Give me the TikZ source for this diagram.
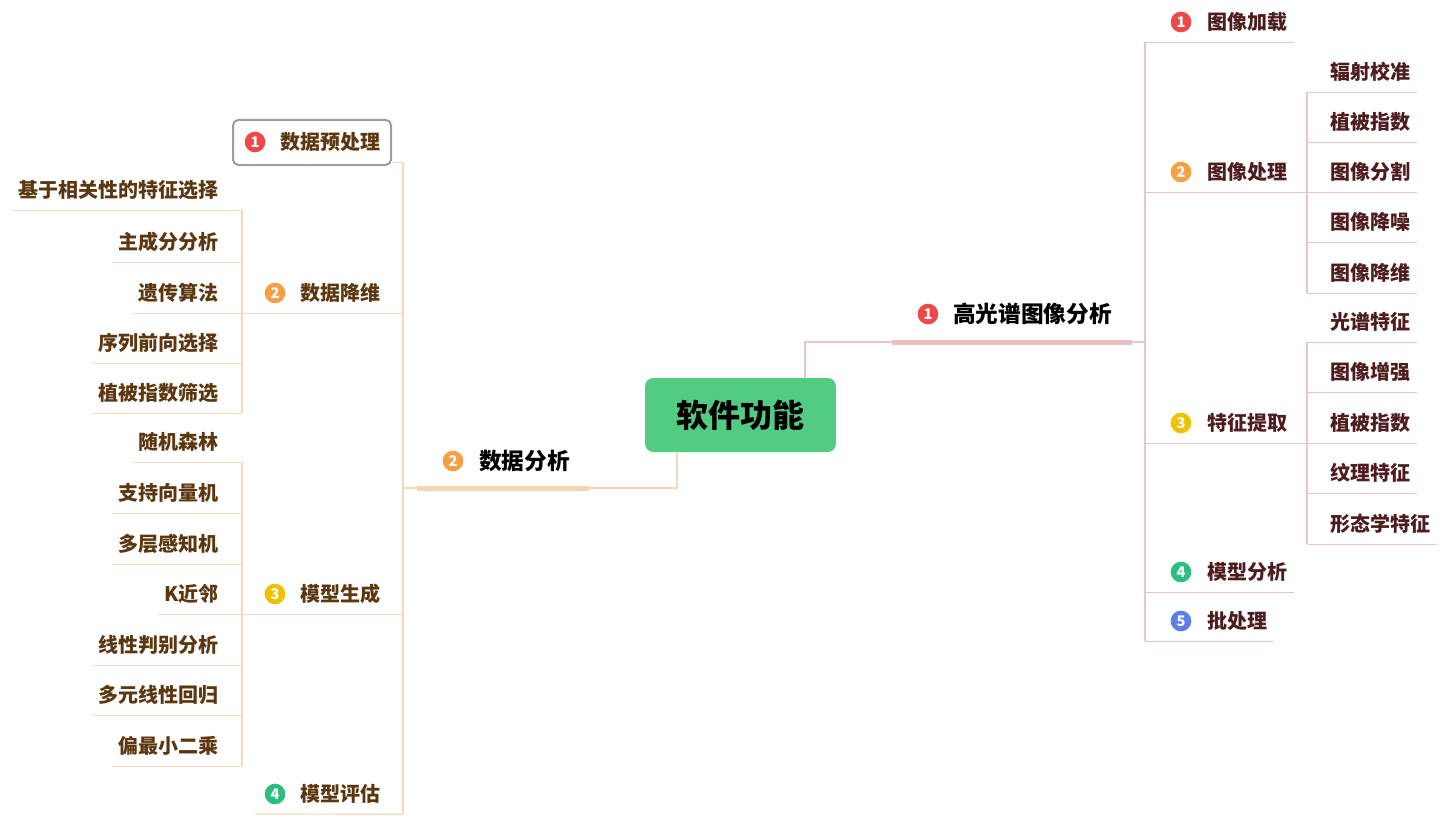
\documentclass[tikz,border=0pt]{standalone}
\usepackage{fontspec}
\setmainfont{Noto Sans CJK SC}
\usepackage{xcolor}
\usepackage{tikz}
\usetikzlibrary{positioning,calc}

\definecolor{rootgreen}{RGB}{82,204,130}
\definecolor{linkR}{RGB}{232,196,196}
\definecolor{linkL}{RGB}{246,216,186}
\definecolor{barRc}{RGB}{234,192,192}
\definecolor{barLc}{RGB}{245,212,176}
\definecolor{txtR}{RGB}{78,28,28}
\definecolor{txtL}{RGB}{92,54,14}
\definecolor{nRed}{RGB}{240,72,72}
\definecolor{nOrange}{RGB}{246,160,70}
\definecolor{nYellow}{RGB}{238,194,0}
\definecolor{nGreen}{RGB}{44,190,126}
\definecolor{nBlue}{RGB}{90,126,238}

\begin{document}
\begin{tikzpicture}[
    x=0.75pt, y=-0.75pt,
    root/.style={rectangle, rounded corners=6pt, fill=rootgreen, minimum width=143pt,
                 minimum height=55.5pt, font=\bfseries\fontsize{24}{24}\selectfont},
    badge/.style={circle, fill=#1, text=white, minimum size=15.5pt, inner sep=0pt,
                  font=\bfseries\fontsize{11}{11}\selectfont},
    mainlbl/.style={anchor=west, inner sep=0pt, font=\bfseries\fontsize{17}{17}\selectfont},
    lbl/.style={inner xsep=4.5pt, inner ysep=0pt, minimum height=30pt,
                font=\bfseries\fontsize{15}{15}\selectfont},
    lblR/.style={lbl, anchor=west, text=txtR},
    lblL/.style={lbl, anchor=east, text=txtL},
    selbox/.style={rectangle, rounded corners=4pt, draw=black!38, line width=1.5pt,
                   fill=white, minimum width=118.5pt, minimum height=33.75pt},
    edgeR/.style={draw=linkR, line width=0.9pt},
    edgeL/.style={draw=linkL, line width=0.9pt},
    barR/.style={draw=barRc, line width=3.75pt},
    barL/.style={draw=barLc, line width=3.75pt}
]
\useasboundingbox (0,0) rectangle (1450,824);

% centre
\node[root] (root) at (740.5,415) {软件功能};

% main branches
\node[badge=nRed] (b-hs) at (928,314) {1};
\node[mainlbl] (hs) at (953,314) {高光谱图像分析};
\node[badge=nOrange] (b-da) at (453,461) {2};
\node[mainlbl] (da) at (479,461) {数据分析};

\coordinate (spR) at (1145,342);
\coordinate (subR) at (1307,342);
\coordinate (spL) at (403,488);
\coordinate (subL) at (242,488);

% right side
\node[badge=nRed] (b-load) at (1181,22) {1};
\node[lblR] (load) at (1201,22) {图像加载};
\node[badge=nOrange] (b-proc) at (1181,172) {2};
\node[lblR] (proc) at (1201,172) {图像处理};
\node[badge=nYellow] (b-feat) at (1181,423) {3};
\node[lblR] (feat) at (1201,423) {特征提取};
\node[badge=nGreen] (b-mana) at (1181,572) {4};
\node[lblR] (mana) at (1201,572) {模型分析};
\node[badge=nBlue] (b-batch) at (1181,621) {5};
\node[lblR] (batch) at (1201,621) {批处理};

\node[lblR] (rad) at (1324,72) {辐射校准};
\node[lblR] (veg) at (1324,122) {植被指数};
\node[lblR] (seg) at (1324,172) {图像分割};
\node[lblR] (den) at (1324,222) {图像降噪};
\node[lblR] (dred) at (1324,273) {图像降维};
\node[lblR] (spec) at (1324,322) {光谱特征};
\node[lblR] (enh) at (1324,372) {图像增强};
\node[lblR] (veg2) at (1324,423) {植被指数};
\node[lblR] (tex) at (1324,473) {纹理特征};
\node[lblR] (morph) at (1324,524) {形态学特征};

% left side
\node[selbox] (preBox) at (312,142.5) {};
\node[badge=nRed] (b-pre) at (255,142) {1};
\node[lblL, anchor=west] (pre) at (274,142) {数据预处理};
\node[badge=nOrange] (b-dim) at (275,293) {2};
\node[lblL, anchor=west] (dim) at (294,293) {数据降维};
\node[badge=nYellow] (b-gen) at (275,594) {3};
\node[lblL, anchor=west] (gen) at (294,594) {模型生成};
\node[badge=nGreen] (b-eval) at (275,794) {4};
\node[lblL, anchor=west] (eval) at (294,794) {模型评估};

\node[lblL] (corr) at (225,190) {基于相关性的特征选择};
\node[lblL] (pca) at (225,242) {主成分分析};
\node[lblL] (ga) at (225,293) {遗传算法};
\node[lblL] (sfs) at (225,343) {序列前向选择};
\node[lblL] (vis) at (225,393) {植被指数筛选};
\node[lblL] (rf) at (225,442) {随机森林};
\node[lblL] (svm) at (225,493) {支持向量机};
\node[lblL] (mlp) at (225,544) {多层感知机};
\node[lblL] (knn) at (225,594) {K近邻};
\node[lblL] (lda) at (225,645) {线性判别分析};
\node[lblL] (mlr) at (225,695) {多元线性回归};
\node[lblL] (pls) at (225,746) {偏最小二乘};

% connectors, right
\draw[edgeR] ([xshift=48.4pt]root.north) |- (spR);
\draw[barR] ($(b-hs.west)+(-25,28)$) -- ($(hs.east)+(20,28)$);
\draw[edgeR] (load.south -| spR) -- (batch.south -| spR);
\draw[edgeR] (load.south -| spR) -- (load.south east);
\draw[edgeR] (proc.south -| spR) -- (proc.south -| subR);
\draw[edgeR] (feat.south -| spR) -- (feat.south -| subR);
\draw[edgeR] (mana.south -| spR) -- (mana.south east);
\draw[edgeR] (batch.south -| spR) -- (batch.south east);
\draw[edgeR] (rad.south -| subR) -- (dred.south -| subR);
\draw[edgeR] (spec.south -| subR) -- (morph.south -| subR);
\draw[edgeR] (rad.south -| subR) -- (rad.south east);
\draw[edgeR] (veg.south -| subR) -- (veg.south east);
\draw[edgeR] (seg.south -| subR) -- (seg.south east);
\draw[edgeR] (den.south -| subR) -- (den.south east);
\draw[edgeR] (dred.south -| subR) -- (dred.south east);
\draw[edgeR] (spec.south -| subR) -- (spec.south east);
\draw[edgeR] (enh.south -| subR) -- (enh.south east);
\draw[edgeR] (veg2.south -| subR) -- (veg2.south east);
\draw[edgeR] (tex.south -| subR) -- (tex.south east);
\draw[edgeR] (morph.south -| subR) -- (morph.south east);

% connectors, left
\draw[edgeL] ([xshift=-47.6pt]root.south) |- (spL);
\draw[barL] ($(b-da.west)+(-25,27)$) -- ($(da.east)+(19,27)$);
\draw[edgeL] (pre.south -| spL) -- (eval.south -| spL);
\draw[edgeL] (pre.south -| spL) -- (pre.south -| preBox.east);
\draw[edgeL] (dim.south -| spL) -- (dim.south -| subL);
\draw[edgeL] (gen.south -| spL) -- (gen.south -| subL);
\draw[edgeL] (eval.south -| spL) -- ($(b-eval.west)+(-9,20)$);
\draw[edgeL] (corr.south -| subL) -- (vis.south -| subL);
\draw[edgeL] (rf.south -| subL) -- (pls.south -| subL);
\draw[edgeL] (corr.south -| subL) -- (corr.south west);
\draw[edgeL] (pca.south -| subL) -- (pca.south west);
\draw[edgeL] (ga.south -| subL) -- (ga.south west);
\draw[edgeL] (sfs.south -| subL) -- (sfs.south west);
\draw[edgeL] (vis.south -| subL) -- (vis.south west);
\draw[edgeL] (rf.south -| subL) -- (rf.south west);
\draw[edgeL] (svm.south -| subL) -- (svm.south west);
\draw[edgeL] (mlp.south -| subL) -- (mlp.south west);
\draw[edgeL] (knn.south -| subL) -- (knn.south west);
\draw[edgeL] (lda.south -| subL) -- (lda.south west);
\draw[edgeL] (mlr.south -| subL) -- (mlr.south west);
\draw[edgeL] (pls.south -| subL) -- (pls.south west);
\end{tikzpicture}
\end{document}
